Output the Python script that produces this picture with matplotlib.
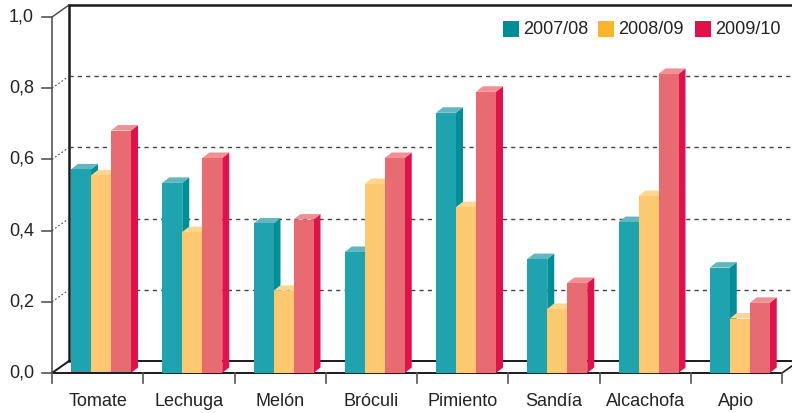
import matplotlib
matplotlib.use("Agg")
import matplotlib.pyplot as plt
from matplotlib.patches import Polygon, Rectangle

plt.rcParams['font.family'] = ['Liberation Sans', 'DejaVu Sans']

categories = ["Tomate", "Lechuga", "Melón", "Bróculi", "Pimiento", "Sandía", "Alcachofa", "Apio"]
series_names = ["2007/08", "2008/09", "2009/10"]
v2007 = [0.572, 0.534, 0.420, 0.340, 0.731, 0.320, 0.424, 0.296]
v2008 = [0.555, 0.396, 0.231, 0.531, 0.466, 0.180, 0.497, 0.153]
v2009 = [0.681, 0.604, 0.431, 0.604, 0.790, 0.253, 0.840, 0.197]
yticks = [0.0, 0.2, 0.4, 0.6, 0.8, 1.0]
ytick_labels = ["0,0", "0,2", "0,4", "0,6", "0,8", "1,0"]

series = [v2007, v2008, v2009]
front_cols = ["#1fa3ae", "#fdc970", "#e86b72"]
side_cols = ["#008e98", "#f4b545", "#e0124b"]
top_cols = ["#62b6bf", "#fed68e", "#f09095"]
legend_cols = ["#008c99", "#fbb52b", "#e0114a"]

W, H = 792, 413
fig = plt.figure(figsize=(W / 100, H / 100), dpi=100)
L, R, B, T = 52, 782, 373, 17
ax = fig.add_axes([L / W, (H - B) / H, (R - L) / W, (B - T) / H])
n = len(categories)
ax.set_xlim(0, n)
ax.set_ylim(0, 1)
ax.axis('off')

pxx = (R - L) / n
pxy = (B - T)
WX, WY = 17 / pxx, 12 / pxy          # wall depth
BX, BY = 7 / pxx, 5.5 / pxy          # bar depth
XR = (W - L) / pxx + 0.5             # beyond right edge

# back wall & floor
ax.plot([WX, WX], [WY, 1 + WY], color="#1a1a1a", lw=1.8, clip_on=False, zorder=1)
ax.plot([WX, XR], [1 + WY, 1 + WY], color="#1a1a1a", lw=1.8, clip_on=False, zorder=1)
ax.plot([WX, XR], [WY, WY], color="#1a1a1a", lw=1.4, clip_on=False, zorder=1)
ax.plot([0, WX], [1, 1 + WY], color="#444444", lw=1.0, clip_on=False, zorder=1)
ax.plot([0, WX], [0, WY], color="#1a1a1a", lw=1.4, clip_on=False, zorder=1)
for yv in yticks[1:-1]:
    ax.plot([WX, XR], [yv + WY, yv + WY], color="#444444", lw=1.0,
            ls=(0, (3, 3)), clip_on=False, zorder=1)
    ax.plot([0, WX], [yv, yv + WY], color="#444444", lw=0.8,
            ls=(0, (1.5, 2)), clip_on=False, zorder=1)

# front axes
ax.plot([0, 0], [0, 1], color="#555555", lw=1.2, clip_on=False, zorder=5)
ax.plot([0, n], [0, 0], color="#1a1a1a", lw=1.4, clip_on=False, zorder=5)
ax.plot([n, n + WX], [0, WY], color="#1a1a1a", lw=1.2, clip_on=False, zorder=5)
for yv, lab in zip(yticks, ytick_labels):
    ax.plot([-10 / pxx, 0], [yv, yv], color="#555555", lw=1.2, clip_on=False, zorder=5)
    ax.text(-18 / pxx, yv, lab, ha='right', va='center', fontsize=13, color="#222222")
for i in range(n + 1):
    ax.plot([i, i], [0, -10 / pxy], color="#555555", lw=1.2, clip_on=False, zorder=5)
for i, c in enumerate(categories):
    ax.text(i + 0.5, -29 / pxy, c, ha='center', va='center', fontsize=13, color="#222222")

# bars
off = 19 / pxx
bw = 20 / pxx
z = 2
for i in range(n):
    for s in range(3):
        v = series[s][i]
        x0 = i + off + s * bw
        x1 = x0 + bw
        ax.add_patch(Polygon([(x1, 0), (x1 + BX, BY), (x1 + BX, v + BY), (x1, v)],
                             closed=True, fc=side_cols[s], ec='none', zorder=z))
        ax.add_patch(Polygon([(x0, v), (x0 + BX, v + BY), (x1 + BX, v + BY), (x1, v)],
                             closed=True, fc=top_cols[s], ec='none', zorder=z))
        ax.bar([x0], [v], width=bw, align='edge', color=front_cols[s],
               edgecolor='none', zorder=z + 0.5)
        z += 1

# legend
lx = [503, 598, 695]
for s in range(3):
    fig.add_artist(Rectangle((lx[s] / W, (H - 37) / H), 16 / W, 16 / H,
                             transform=fig.transFigure, fc=legend_cols[s], ec='none'))
    fig.text((lx[s] + 20) / W, (H - 29) / H, series_names[s], ha='left', va='center',
             fontsize=13, color="#222222")

fig.savefig("out.png", dpi=100)
